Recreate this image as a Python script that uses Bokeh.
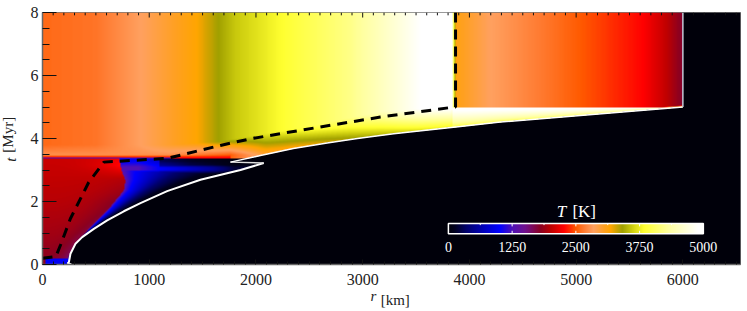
import numpy as np
from bokeh.plotting import figure
from bokeh.models import FixedTicker, LinearAxis, LinearColorMapper, Label, ColumnDataSource
from bokeh.core.properties import value
from bokeh.embed import file_html
from bokeh.resources import INLINE

# colour table
cmap_T = [0, 120, 360, 700, 1000, 1250, 1500, 1800, 2000, 2250, 2500, 2650, 2840, 3050, 3170, 3400, 3600, 3820, 4300, 4870, 5000]
cmap_rgb = [(0,0,10),(0,0,30),(0,0,110),(0,0,190),(0,0,255),(80,16,180),(112,16,140),(139,0,32),(192,0,0),(255,0,0),
            (255,90,0),(255,122,48),(255,160,96),(255,160,32),(255,165,0),(160,160,0),(208,208,16),(255,255,48),(255,255,160),(255,255,255),(255,255,255)]

# interface curves
front_low_t = [0.0, 0.04, 0.07, 0.34, 0.66, 0.87, 1.13, 1.40, 1.69, 1.95, 2.33, 2.69, 3.00, 3.22]
front_low_r = [270, 235, 247, 262, 309, 372, 481, 606, 762, 918, 1168, 1480, 1855, 2073]
front_up_r = [1761, 2042, 2350, 2667, 2950, 3290, 3915, 4290, 6000]
front_up_t = [3.25, 3.46, 3.68, 3.86, 4.00, 4.15, 4.38, 4.52, 5.00]
mix_t = [0.18, 0.92, 1.71, 2.35, 2.67, 3.0, 3.35]
mix_r = [235, 375, 606, 762, 777, 740, 720]
dash_r = [0, 125, 169, 262, 433, 575, 1170, 1667, 1949, 2258, 2576, 3166, 3860, 3870, 3870]
dash_t = [0.20, 0.25, 0.62, 1.46, 2.61, 3.25, 3.37, 3.78, 3.99, 4.17, 4.35, 4.68, 5.00, 5.00, 8.00]

# temperature profiles
top_r = [0, 500, 920, 1450, 1650, 1800, 2250, 2900, 3550, 3835, 3855, 3875, 4200, 5040, 5630, 5850, 6000]
top_T = [2570, 2620, 2840, 3170, 3400, 3560, 3820, 4200, 4870, 5000, 3800, 3100, 2840, 2500, 2250, 2000, 1750]
hot_r = [0, 1200, 1760, 2100, 2500, 3000, 3500, 4000, 6000]
hot_T = [2760, 2760, 2520, 3000, 3170, 3400, 3620, 3800, 3950]
core_t = [0.18, 1.0, 2.0, 3.35]
core_T0 = [1800, 1890, 1970, 2040]
core_t2 = [0.18, 1.0, 2.0, 2.7, 3.15, 3.35]
core_T1 = [1600, 1720, 1790, 1950, 2280, 2200]
rim_s = [0, 0.12, 0.3, 0.5, 0.8, 1]
rim_T = [1300, 1000, 700, 360, 120, 40]
cap_r = [0, 1170, 1650, 2500, 3170, 3830, 6000]
cap_t = [3.80, 3.80, 3.90, 4.40, 4.85, 5.00, 5.00]
streak_r = [740, 900, 1100, 1600, 1800]
streak_T = [1250, 1250, 1000, 520, 200]

x_ticks = [0, 1000, 2000, 3000, 4000, 5000, 6000]
y_ticks = [0, 2, 4, 6, 8]
bar_ticks = [0, 1250, 2500, 3750, 5000]

RMAX, TMAX = 6540.0, 8.0
nx, ny = 698, 252
r = (np.arange(nx) + 0.5) * RMAX / nx
t = (np.arange(ny) + 0.5) * TMAX / ny
R, Tm = np.meshgrid(r, t)

rl = np.interp(Tm, front_low_t, front_low_r)
rm = np.interp(Tm, mix_t, mix_r)
tu = np.interp(R, front_up_r, front_up_t)

F = np.full(R.shape, 0.0)
low = (Tm < 3.35) & (R <= rl)
f = np.clip(R / rm, 0, 1)
T0 = np.interp(Tm, core_t, core_T0)
T1 = np.interp(Tm, core_t2, core_T1)
inner = T0 + (T1 - T0) * f**3
s = np.clip((R - rm) / np.maximum(rl - rm, 1), 0, 1)
rim = np.interp(s, rim_s, rim_T) * np.interp(Tm, [3.05, 3.28], [1, 0.4])
bump = np.interp(Tm, [2.8, 3.0, 3.1, 3.3], [0, 1, 1, 0.75])
streak = np.interp(R, streak_r, streak_T)
narrow = np.where(R < 1100, 1.0, np.interp(Tm, [2.85, 3.0, 3.08, 3.2], [0, 1, 1, 0]))
rim = np.maximum(rim, streak * np.minimum(bump, narrow))
whole = np.where(R <= rm, inner, rim)
F[low] = whole[low]
start = (Tm < 0.18) & (R <= rl) & (R > 30)
F[start] = 950
low2 = (Tm >= 3.22) & (Tm < 3.35) & (R < np.interp(Tm, [3.22, 3.35], [1761, 1500]))
F[low2] = whole[low2]

tf = np.maximum(tu, 3.48)
up = (Tm >= 3.35) & (R <= 6000) & (Tm >= tu)
hot = np.interp(R, hot_r, hot_T)
top = np.interp(R, top_r, top_T)
cap = np.interp(R, cap_r, cap_t)
w = np.clip((Tm - tf) / np.maximum(cap - tf, 0.05), 0, 1)
U = hot + (top - hot) * w
U = np.where((R > 3840) & (Tm < 5.0), hot + (5000 - hot) * w**0.6, U)
th = (Tm < 3.48) & (R < 1760)
U = np.where(th, 2250 + (hot - 2250) * np.clip((Tm - 3.40) / 0.08, 0, 1), U)
th2 = (Tm < 3.39) & (R < 1200)
U = np.where(th2, 1250, U)
F[up] = U[up]
band = (Tm >= 3.35) & (Tm < tu) & (R < 1761)
F[band] = U[band]

nodes = np.linspace(0, 5000, 512)
pal = []
for v in nodes:
    c = [int(round(np.interp(v, cmap_T, [q[i] for q in cmap_rgb]))) for i in range(3)]
    pal.append("#%02x%02x%02x" % tuple(c))
mapper = LinearColorMapper(palette=pal, low=0, high=5000)

p = figure(frame_width=698, frame_height=252, x_range=(0, RMAX), y_range=(0, TMAX), toolbar_location=None,
           output_backend="svg", min_border_left=42, min_border_right=2, min_border_top=12, min_border_bottom=42,
           margin=(0, 0, 0, -4))
p.grid.visible = False
p.background_fill_color = "#00000a"
p.border_fill_color = "white"
p.outline_line_color = "#777777"
p.outline_line_width = 1

p.image(image=[F.astype(np.float32)], x=0, y=0, dw=RMAX, dh=TMAX, color_mapper=mapper)

FONT = "Liberation Serif"
INK = "#222222"
minor_x = [v for v in range(0, 6600, 100) if v % 1000]
minor_y = [v * 0.5 for v in range(0, 17) if v % 4]
ax = p.xaxis[0]
ay = p.yaxis[0]
ax.ticker = FixedTicker(ticks=x_ticks, minor_ticks=minor_x)
ay.ticker = FixedTicker(ticks=y_ticks, minor_ticks=minor_y)
for a in (ax, ay):
    a.major_label_text_font = FONT
    a.major_label_text_font_size = "16px"
    a.major_label_text_color = INK
    a.major_tick_out = 0
    a.minor_tick_out = 0
    a.axis_line_color = "#666666"
    a.axis_line_width = 1.5
    a.major_tick_line_color = "#111111"
    a.minor_tick_line_color = "#111111"
ax.major_tick_in = 5
ax.minor_tick_in = 3
ay.major_tick_in = 14
ay.minor_tick_in = 7
ax.major_label_standoff = 9
ay.major_label_standoff = 4
ay.major_label_orientation = "horizontal"

def name_axis(side, pos, letter, unit, standoff, back, orient):
    a = LinearAxis(ticker=FixedTicker(ticks=[pos]), major_label_overrides={pos: letter},
                   major_label_text_font=FONT, major_label_text_font_style="italic",
                   major_label_text_font_size="15px", major_label_text_color=INK,
                   major_label_standoff=standoff, major_label_orientation=orient,
                   major_tick_in=0, major_tick_out=0, minor_tick_in=0, minor_tick_out=0,
                   axis_line_color=None, major_tick_line_color=None, minor_tick_line_color=None,
                   axis_label=unit, axis_label_text_font=FONT, axis_label_text_font_style="normal",
                   axis_label_text_font_size="15px", axis_label_text_color=INK, axis_label_standoff=back)
    p.add_layout(a, side)

name_axis("below", 3100, "r", "\u00a0\u00a0[km]", 0, -15, "horizontal")
name_axis("left", 3.33, "t", "\u00a0\u00a0[Myr]", 8, -15, "vertical")

# ticks along the top edge
p.segment(x_ticks, [8] * len(x_ticks), x_ticks, [7.84] * len(x_ticks), line_color="#111111", line_width=1)
p.segment(minor_x, [8] * len(minor_x), minor_x, [7.91] * len(minor_x), line_color="#111111", line_width=1)

# interfaces
p.line(front_low_r, front_low_t, line_color="white", line_width=2)
p.line([2073, 1761], [3.22, 3.25], line_color="#dddddd", line_width=1.5)
p.line(front_up_r, front_up_t, line_color="white", line_width=1.5)
p.line([6000, 6000], [5, 8], line_color="#c8c8d8", line_width=1.5)
p.line(dash_r, dash_t, line_color="black", line_width=3, line_dash="10 7")

# colour bar
BX0, BX1, BY0, BY1 = 3803, 6192, 0.98, 1.30
bar = np.array([nodes, nodes], dtype=np.float32)
p.image(image=[bar], x=BX0, y=BY0, dw=BX1 - BX0, dh=BY1 - BY0, color_mapper=mapper)
p.quad(left=[BX0], right=[BX1], bottom=[BY0], top=[BY1], fill_color=None, line_color="white", line_width=1.5)
xb = [BX0 + (BX1 - BX0) * v / 5000 for v in bar_ticks[1:-1]]
xb2 = [BX0 + (BX1 - BX0) * v / 5000 for v in [625, 1875, 3125, 4375]]
p.segment(xb, [BY0] * 3, xb, [BY0 + 0.09] * 3, line_color="white", line_width=1)
p.segment(xb, [BY1] * 3, xb, [BY1 - 0.09] * 3, line_color="white", line_width=1)
p.segment(xb2, [BY1] * 4, xb2, [BY1 - 0.05] * 4, line_color="white", line_width=1)
src = ColumnDataSource(dict(x=[BX0 + (BX1 - BX0) * v / 5000 for v in bar_ticks], y=[0.55] * 5, s=[str(v) for v in bar_ticks]))
p.text("x", "y", text="s", source=src, text_color="white", text_font=value(FONT), text_font_size="14px",
       text_align="center", text_baseline="middle")

def lab(x, y, s, style, align):
    p.add_layout(Label(x=x, y=y, text=s, text_color="white", text_font=FONT, text_font_style=style,
                       text_font_size="17px", text_align=align, text_baseline="middle"))

lab(4908, 1.68, "T", "italic", "right")
lab(4965, 1.68, "[K]", "normal", "left")

open("out.html", "w").write(file_html(p, INLINE))
